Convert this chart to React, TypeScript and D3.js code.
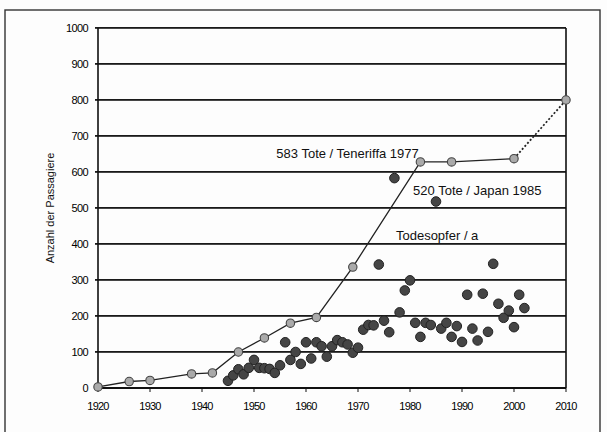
import * as d3 from "d3";

// upper envelope (connected line, light markers)
const capYears = [1920, 1926, 1930, 1938, 1942, 1947, 1952, 1957, 1962, 1969, 1982, 1988, 2000];
const capValues = [3, 18, 21, 39, 42, 100, 139, 180, 196, 336, 628, 628, 637];
const projYears = [2000, 2010];
const projValues = [637, 800];

// fatalities per year (dark markers)
const deathYears = [
  1945, 1946, 1947, 1948, 1949, 1950, 1951, 1952, 1953, 1954, 1955, 1956, 1957, 1958, 1959,
  1960, 1961, 1962, 1963, 1964, 1965, 1966, 1967, 1968, 1969, 1970, 1971, 1972, 1973, 1974,
  1975, 1976, 1977, 1978, 1979, 1980, 1981, 1982, 1983, 1984, 1985, 1986, 1987, 1988, 1989,
  1990, 1991, 1992, 1993, 1994, 1995, 1996, 1997, 1998, 1999, 2000, 2001, 2002,
];
const deathValues = [
  20, 35, 52, 38, 56, 78, 56, 55, 53, 42, 63, 127, 78, 100, 67,
  127, 82, 127, 116, 87, 116, 133, 127, 121, 98, 112, 162, 175, 174, 343,
  187, 155, 583, 210, 271, 299, 181, 142, 181, 175, 518, 165, 181, 142, 172,
  128, 259, 165, 132, 262, 156, 345, 234, 195, 215, 169, 259, 222,
];

const xTicks = [1920, 1930, 1940, 1950, 1960, 1970, 1980, 1990, 2000, 2010];
const yTicks = [0, 100, 200, 300, 400, 500, 600, 700, 800, 900, 1000];

const annotations = [
  { text: "583 Tote / Teneriffa 1977", year: 1954.3, value: 640 },
  { text: "520 Tote / Japan 1985", year: 1980.6, value: 537 },
  { text: "Todesopfer / a", year: 1977.3, value: 412 },
];

const FONT = "'Liberation Sans', Arial, sans-serif";

export default function App() {
  const W = 607;
  const H = 432;
  const plot = { left: 98, right: 566, top: 28, bottom: 388 };

  const x = d3.scaleLinear().domain([1920, 2010]).range([plot.left, plot.right]);
  const y = d3.scaleLinear().domain([0, 1000]).range([plot.bottom, plot.top]);

  const capPts = capYears.map((yr, i) => [yr, capValues[i]] as [number, number]);
  const projPts = projYears.map((yr, i) => [yr, projValues[i]] as [number, number]);
  const line = d3
    .line<[number, number]>()
    .x((d) => x(d[0]))
    .y((d) => y(d[1]));

  return (
    <svg width={W} height={H} style={{ position: "absolute", left: 0, top: 0 }}>
      <rect x={0} y={0} width={W} height={H} fill="#fdfdfd" />
      {/* outer frame */}
      <rect x={5} y={10} width={595} height={440} fill="none" stroke="#333" strokeWidth={1.4} />

      {/* horizontal grid lines */}
      {yTicks.map((t) => (
        <rect
          key={"g" + t}
          x={plot.left - 3}
          y={Math.round(y(t)) - 1}
          width={plot.right - plot.left + 3}
          height={1.8}
          fill="#1a1a1a"
        />
      ))}
      {xTicks.map((t) => (
        <rect
          key={"t" + t}
          x={x(t) - 0.5}
          y={plot.bottom}
          width={1}
          height={4}
          fill="#111"
        />
      ))}
      <rect x={plot.left - 0.8} y={plot.top} width={1.6} height={plot.bottom - plot.top} fill="#111" />
      <rect x={plot.right - 0.8} y={plot.top} width={1.6} height={plot.bottom - plot.top} fill="#111" />
      <rect x={plot.left} y={plot.bottom - 1} width={plot.right - plot.left} height={2} fill="#111" />

      {yTicks.map((t) => (
        <text
          key={"y" + t}
          x={plot.left - 10}
          y={y(t)}
          dy="0.35em"
          textAnchor="end"
          fontFamily={FONT}
          fontSize={11}
          letterSpacing={-0.6}
          fill="#000"
        >
          {t}
        </text>
      ))}
      {xTicks.map((t) => (
        <text
          key={"x" + t}
          x={x(t)}
          y={plot.bottom + 22}
          textAnchor="middle"
          fontFamily={FONT}
          fontSize={11}
          letterSpacing={-0.8}
          fill="#000"
        >
          {t}
        </text>
      ))}

      {/* y axis title */}
      <text
        transform={`translate(50,${(plot.top + plot.bottom) / 2}) rotate(-90)`}
        textAnchor="middle"
        dy="0.35em"
        fontFamily={FONT}
        fontSize={11}
        fill="#111"
      >
        Anzahl der Passagiere
      </text>

      {/* envelope line */}
      <path d={line(capPts) ?? ""} fill="none" stroke="#222" strokeWidth={1.3} />
      <path d={line(projPts) ?? ""} fill="none" stroke="#222" strokeWidth={1.8} strokeDasharray="2 2" />

      {/* fatalities */}
      {deathYears.map((yr, i) => (
        <circle
          key={yr}
          cx={x(yr)}
          cy={y(deathValues[i])}
          r={4.8}
          fill="#454545"
          stroke="#222"
          strokeWidth={1}
        />
      ))}

      {/* envelope markers */}
      {capPts.concat([projPts[1]]).map((d, i) => (
        <circle
          key={i}
          cx={x(d[0])}
          cy={y(d[1])}
          r={4.2}
          fill="#aaa"
          stroke="#444"
          strokeWidth={1.1}
        />
      ))}

      {/* annotations */}
      {annotations.map((a) => (
        <text
          key={a.text}
          x={x(a.year)}
          y={y(a.value)}
          fontFamily={FONT}
          fontSize={13}
          fill="#111"
        >
          {a.text}
        </text>
      ))}
    </svg>
  );
}
